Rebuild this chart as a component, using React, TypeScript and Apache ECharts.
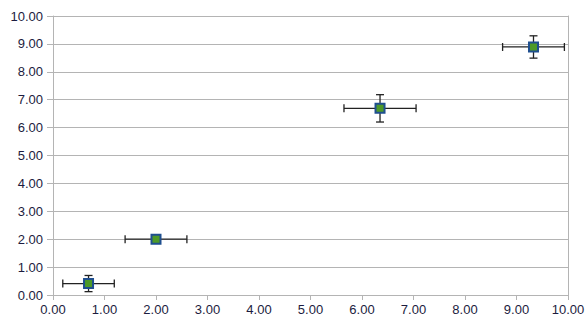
import React, { useEffect, useRef } from "react";
import * as echarts from "echarts";

const xValues = [0.69, 2.0, 6.35, 9.33];
const yValues = [0.41, 2.0, 6.69, 8.89];
const xErrors = [0.5, 0.6, 0.7, 0.6];
const yErrors = [0.29, 0.08, 0.49, 0.4];

export default function App() {
  const ref = useRef<HTMLDivElement>(null);
  useEffect(() => {
    if (!ref.current) return;
    const chart = echarts.init(ref.current, undefined, { renderer: "svg" });
    const points = xValues.map((x, i) => [x, yValues[i], xErrors[i], yErrors[i]]);
    const textColor = "#1c1c40";
    const lineColor = "#b4b4b4";
    chart.setOption({
      animation: false,
      backgroundColor: "#ffffff",
      grid: { left: 53, right: 20, top: 16, bottom: 29, containLabel: false },
      xAxis: {
        type: "value",
        min: 0,
        max: 10,
        interval: 1,
        axisLine: { show: true, onZero: false, lineStyle: { color: lineColor, width: 1 } },
        axisTick: { show: true, length: 5, lineStyle: { color: lineColor } },
        splitLine: { show: false },
        axisLabel: {
          color: textColor,
          fontFamily: "Liberation Sans, Arial, sans-serif",
          fontSize: 13,
          margin: 8,
          formatter: (v: number) => v.toFixed(2),
        },
      },
      yAxis: [
        {
          type: "value",
          min: 0,
          max: 10,
          interval: 1,
          axisLine: { show: true, onZero: false, lineStyle: { color: lineColor, width: 1 } },
          axisTick: { show: true, length: 6, lineStyle: { color: lineColor } },
          splitLine: { show: true, lineStyle: { color: lineColor, width: 1 } },
          axisLabel: {
            color: textColor,
            fontFamily: "Liberation Sans, Arial, sans-serif",
            fontSize: 13,
            margin: 10,
            formatter: (v: number) => v.toFixed(2),
          },
        },
        {
          type: "value",
          position: "right",
          min: 0,
          max: 10,
          interval: 1,
          axisLine: { show: true, onZero: false, lineStyle: { color: lineColor, width: 1 } },
          axisTick: { show: false },
          axisLabel: { show: false },
          splitLine: { show: false },
        },
      ],
      series: [
        {
          type: "custom",
          z: 2,
          data: points,
          renderItem: (params: any, api: any) => {
            const x = api.value(0);
            const y = api.value(1);
            const ex = api.value(2);
            const ey = api.value(3);
            const l = api.coord([x - ex, y]);
            const r = api.coord([x + ex, y]);
            const t = api.coord([x, y + ey]);
            const b = api.coord([x, y - ey]);
            const cap = 4;
            const style = { stroke: "#222222", lineWidth: 1.3 };
            return {
              type: "group",
              children: [
                { type: "line", shape: { x1: l[0], y1: l[1], x2: r[0], y2: r[1] }, style },
                { type: "line", shape: { x1: l[0], y1: l[1] - cap, x2: l[0], y2: l[1] + cap }, style },
                { type: "line", shape: { x1: r[0], y1: r[1] - cap, x2: r[0], y2: r[1] + cap }, style },
                { type: "line", shape: { x1: t[0], y1: t[1], x2: b[0], y2: b[1] }, style },
                { type: "line", shape: { x1: t[0] - cap, y1: t[1], x2: t[0] + cap, y2: t[1] }, style },
                { type: "line", shape: { x1: b[0] - cap, y1: b[1], x2: b[0] + cap, y2: b[1] }, style },
              ],
            };
          },
        },
        {
          type: "scatter",
          z: 3,
          data: points.map((p) => [p[0], p[1]]),
          symbol: "rect",
          symbolSize: 9,
          itemStyle: { color: "#4e9a28", borderColor: "#1f4f8f", borderWidth: 2, opacity: 1 },
        },
      ],
    });
    return () => chart.dispose();
  }, []);
  return <div ref={ref} style={{ width: 588, height: 324, position: "absolute", left: 0, top: 0 }} />;
}
